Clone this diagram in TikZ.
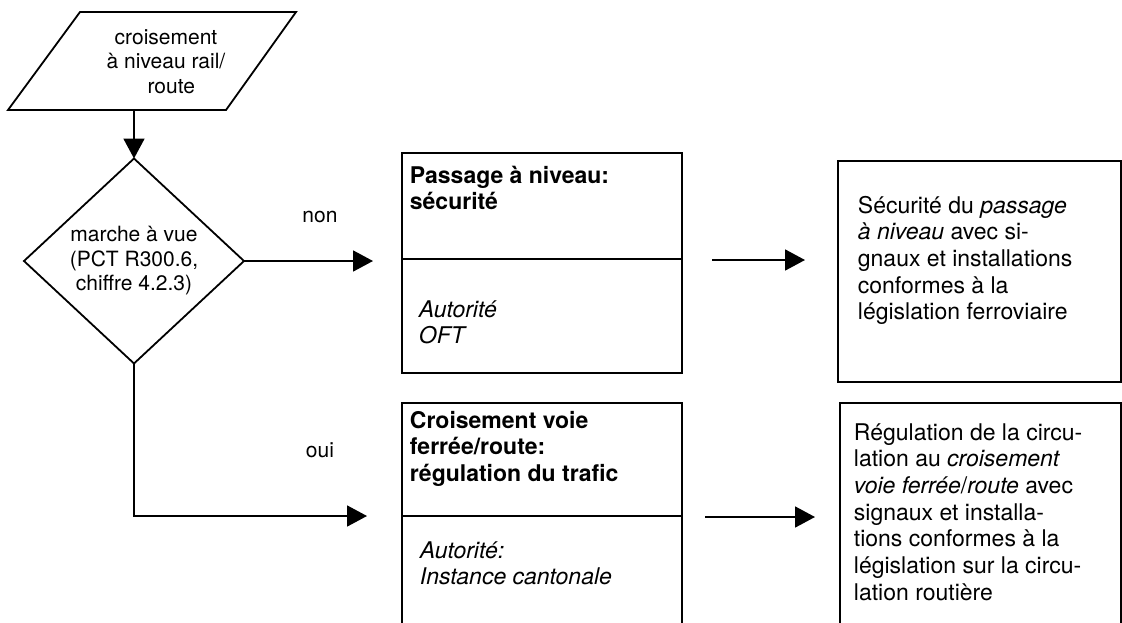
\documentclass[tikz,border=0pt]{standalone}
\usepackage{fontspec}
\setmainfont{TeX Gyre Heros}
\usetikzlibrary{arrows.meta,shapes.geometric}

\begin{document}
\begin{tikzpicture}[x=1pt,y=-1pt,line width=1.8pt,
  boxtxt/.style={inner sep=0pt,align=left,anchor=base west,
    font=\fontsize{23}{26.7}\selectfont},
  flowtxt/.style={inner sep=0pt,align=center,
    font=\fontsize{21}{24.5}\selectfont},
  frame/.style={draw,rectangle,inner sep=0pt,outer sep=0pt,anchor=north west},
  arr/.style={-{Triangle[length=20pt,width=21pt]}}]
\useasboundingbox (0,0) rectangle (1122,622);
\clip (0,0) rectangle (1122,622);

% input parallelogram (text positions are given by the last baseline)
\draw (80,12) -- (296,12) -- (226,110) -- (8,110) -- cycle;
\node[flowtxt,anchor=base] (inp) at (166,93)
  {croisement\\à niveau rail/\\\hphantom{x}route};
\coordinate (inpb) at (134,110);

% decision
\node[diamond,draw,inner sep=0pt,outer sep=0pt,minimum width=220pt,
  minimum height=205pt,flowtxt] (dec) at (134,261)
  {marche à vue\\(PCT R300.6,\\chiffre 4.2.3)};

% authority boxes
\node[frame,minimum width=280pt,minimum height=220pt] (b1) at (402,153) {};
\draw (402,259) -- (682,259);
\node[boxtxt,font=\fontsize{23}{26.7}\selectfont\bfseries] (b1t) at (409,209.7)
  {Passage à niveau:\\sécurité};
\node[boxtxt,font=\fontsize{23}{26.7}\selectfont\itshape] (b1a) at (418,343.7)
  {Autorité\\OFT};

\node[frame,minimum width=280pt,minimum height=260pt] (b2) at (402,403) {};
\draw (402,516) -- (682,516);
\node[boxtxt,font=\fontsize{23}{26.7}\selectfont\bfseries] (b2t) at (409,481.4)
  {Croisement voie\\ferrée/route:\\régulation du trafic};
\node[boxtxt,font=\fontsize{23}{26.7}\selectfont\itshape] (b2a) at (419,584.7)
  {Autorité:\\Instance cantonale};

% result boxes
\node[frame,minimum width=283pt,minimum height=221pt] (r1) at (838,161) {};
\node[boxtxt] (r1t) at (857,319.8)
  {Sécurité du \textit{passage}\\\textit{à niveau} avec si-\\gnaux et installations\\conformes à la\\législation ferroviaire};

\node[frame,minimum width=281pt,minimum height=260pt] (r2) at (840,403) {};
\node[boxtxt] (r2t) at (853,600.2)
  {Régulation de la circu-\\lation au \textit{croisement}\\\textit{voie ferrée}/\textit{route} avec\\signaux et installa-\\tions conformes à la\\législation sur la circu-\\lation routière};

% connectors
\coordinate (nontip) at (373,261);
\coordinate (ouitip) at (367,516);
\coordinate (a1s) at (712,260);
\coordinate (a1e) at (805,260);
\coordinate (a2s) at (705,517);
\coordinate (a2e) at (815,517);

\draw[arr] (inpb) -- (dec.north);
\draw[arr] (dec.east) -- (nontip);
\draw[arr] (dec.south) |- (ouitip);
\draw[arr] (a1s) -- (a1e);
\draw[arr] (a2s) -- (a2e);

\node[flowtxt,anchor=base] (non) at (320,222) {non};
\node[flowtxt,anchor=base] (oui) at (320,457) {oui};
\end{tikzpicture}
\end{document}
